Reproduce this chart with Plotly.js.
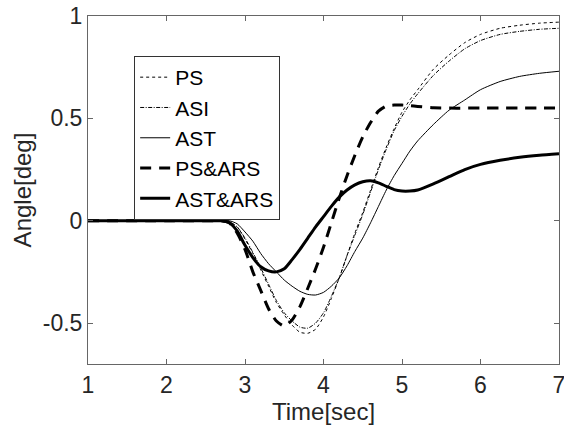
<!DOCTYPE html>
<html><head><meta charset="utf-8">
<script src="https://cdn.plot.ly/plotly-3.0.1.min.js"></script>
<style>html,body{margin:0;padding:0;background:#fff}#chart{width:564px;height:431px}</style>
</head><body><div id="chart"></div>
<script>
const timeSec = [1, 2, 2.6, 2.7, 2.8, 2.9, 3.0, 3.1, 3.2, 3.3, 3.4, 3.5, 3.6, 3.7, 3.8, 3.9, 4.0, 4.1, 4.2, 4.3, 4.4, 4.5, 4.6, 4.7, 4.8, 4.9, 5.0, 5.1, 5.2, 5.4, 5.6, 5.8, 6.0, 6.25, 6.5, 6.75, 7.0];
const psVals    = [0, 0, 0, 0, -0.005, -0.03, -0.09, -0.16, -0.24, -0.32, -0.40, -0.46, -0.51, -0.545, -0.55, -0.53, -0.47, -0.38, -0.28, -0.17, -0.06, 0.04, 0.15, 0.26, 0.36, 0.45, 0.53, 0.59, 0.64, 0.74, 0.81, 0.87, 0.91, 0.94, 0.955, 0.965, 0.97];
const asiVals   = [0, 0, 0, 0, -0.005, -0.03, -0.085, -0.155, -0.23, -0.31, -0.39, -0.45, -0.49, -0.52, -0.525, -0.50, -0.45, -0.37, -0.28, -0.17, -0.07, 0.03, 0.14, 0.25, 0.35, 0.44, 0.51, 0.57, 0.62, 0.71, 0.78, 0.84, 0.88, 0.91, 0.925, 0.935, 0.94];
const astVals   = [0, 0, 0, 0, 0.0, -0.015, -0.055, -0.10, -0.16, -0.21, -0.25, -0.29, -0.32, -0.345, -0.36, -0.363, -0.35, -0.32, -0.28, -0.22, -0.15, -0.085, -0.01, 0.07, 0.15, 0.22, 0.28, 0.34, 0.39, 0.47, 0.54, 0.59, 0.64, 0.68, 0.705, 0.72, 0.73];
const psArsVals = [0, 0, 0, 0, -0.01, -0.06, -0.14, -0.25, -0.34, -0.43, -0.49, -0.515, -0.485, -0.42, -0.33, -0.235, -0.13, -0.01, 0.11, 0.22, 0.32, 0.41, 0.48, 0.535, 0.56, 0.565, 0.565, 0.562, 0.558, 0.552, 0.55, 0.55, 0.55, 0.55, 0.55, 0.55, 0.55];
const astArsVals= [0, 0, 0, 0, -0.01, -0.05, -0.12, -0.18, -0.225, -0.245, -0.25, -0.235, -0.19, -0.14, -0.085, -0.03, 0.02, 0.07, 0.115, 0.15, 0.175, 0.19, 0.195, 0.185, 0.168, 0.152, 0.145, 0.145, 0.15, 0.18, 0.215, 0.25, 0.275, 0.295, 0.31, 0.32, 0.327];
const seriesNames = ["PS", "ASI", "AST", "PS&ARS", "AST&ARS"];
const yTickVals = [-0.5, 0, 0.5, 1];
const yTickText = ["-0.5", "0", "0.5", "1"];
const xTickVals = [1, 2, 3, 4, 5, 6, 7];

const styles = [
  {width: 1, dash: "3px,3px"},
  {width: 1, dash: "4px,1.5px,1px,1.5px"},
  {width: 1, dash: "solid"},
  {width: 3, dash: "11px,8px"},
  {width: 3, dash: "solid"}
];
const vals = [psVals, asiVals, astVals, psArsVals, astArsVals];
const traces = vals.map((v, i) => ({
  x: timeSec, y: v, name: seriesNames[i], type: "scatter", mode: "lines",
  line: {color: "#000", width: styles[i].width, dash: styles[i].dash, shape: "spline", smoothing: 0.6}
}));
const FONT = "Liberation Sans, Arial, sans-serif";
const axisCommon = {
  showline: true, linecolor: "#666", linewidth: 1, mirror: "ticks",
  ticks: "inside", ticklen: 5, tickcolor: "#666", showgrid: false, zeroline: false,
  ticklabeloverflow: "allow",
  tickfont: {family: FONT, size: 23, color: "#262626"}
};
const layout = {
  width: 564, height: 431,
  margin: {l: 88, r: 5, t: 16, b: 67},
  paper_bgcolor: "#fff", plot_bgcolor: "#fff",
  font: {family: FONT, color: "#262626"},
  xaxis: Object.assign({}, axisCommon, {range: [1, 7], tickvals: xTickVals,
    title: {text: "Time[sec]", font: {family: FONT, size: 24, color: "#262626"}, standoff: 2}}),
  yaxis: Object.assign({}, axisCommon, {range: [-0.7, 1], tickvals: yTickVals, ticktext: yTickText,
    title: {text: "Angle[deg]", font: {family: FONT, size: 24, color: "#262626"}, standoff: 4}}),
  showlegend: true,
  legend: {x: 0.098, y: 0.885, xanchor: "left", yanchor: "top",
    bordercolor: "#333", borderwidth: 1, bgcolor: "#fff",
    font: {family: FONT, size: 21, color: "#000"},
    itemwidth: 30}
};
Plotly.newPlot("chart", traces, layout, {displayModeBar: false, staticPlot: true});
</script></body></html>
